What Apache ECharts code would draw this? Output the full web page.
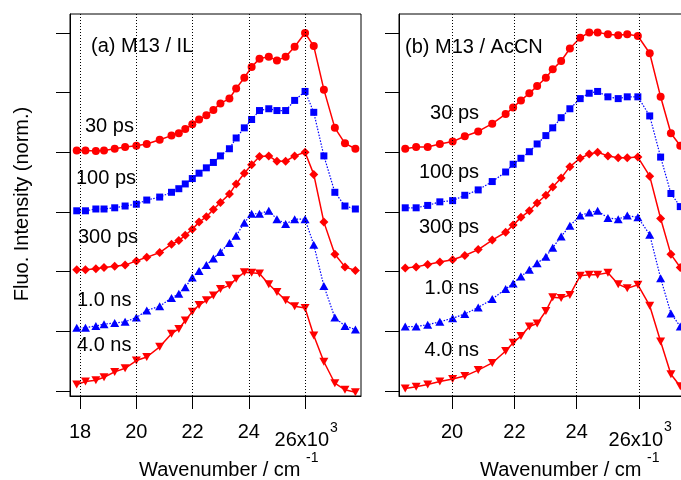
<!DOCTYPE html>
<html>
<head>
<meta charset="utf-8">
<script src="https://cdn.jsdelivr.net/npm/echarts@6/dist/echarts.min.js"></script>
<style>
  html, body { margin: 0; padding: 0; background: #fff; }
  #chart { width: 681px; height: 480px; }
</style>
</head>
<body>
<div id="chart"></div>
<script>
  // wavenumber (x10^3 cm-1) of each point
  const ilWn = [17.88, 18.19, 18.56, 18.85, 19.23, 19.60, 20.00, 20.37, 20.83, 21.25,
    21.51, 21.74, 21.99, 22.23, 22.49, 22.74, 22.99, 23.31, 23.55, 23.84,
    24.10, 24.38, 24.71, 25.00, 25.31, 25.63, 26.00, 26.31, 26.67, 27.06,
    27.42, 27.79];
  const acWn = [18.50, 18.85, 19.22, 19.61, 20.02, 20.41, 20.84, 21.29, 21.72, 21.96,
    22.21, 22.48, 22.73, 23.01, 23.23, 23.50, 23.78, 24.11, 24.40, 24.67,
    25.00, 25.33, 25.62, 25.96, 26.34, 26.69, 27.02, 27.32];

  // (a) M13 / IL  -- normalized spectra, already stacked with offsets
  const il30ps = [4.03, 4.03, 4.02, 4.03, 4.06, 4.09, 4.11, 4.14, 4.21, 4.28,
    4.32, 4.39, 4.47, 4.55, 4.62, 4.71, 4.82, 4.90, 5.07, 5.25,
    5.43, 5.57, 5.60, 5.54, 5.60, 5.77, 6.00, 5.78, 5.05, 4.41,
    4.15, 4.06];
  const il100ps = [3.02, 3.02, 3.05, 3.05, 3.07, 3.10, 3.13, 3.20, 3.25, 3.33,
    3.39, 3.47, 3.56, 3.65, 3.74, 3.83, 3.94, 4.06, 4.24, 4.41,
    4.55, 4.70, 4.73, 4.70, 4.70, 4.87, 5.02, 4.67, 3.94, 3.33,
    3.10, 3.05];
  const il300ps = [2.03, 2.03, 2.05, 2.07, 2.09, 2.11, 2.18, 2.24, 2.32, 2.46,
    2.52, 2.61, 2.71, 2.83, 2.92, 3.04, 3.16, 3.30, 3.47, 3.65,
    3.79, 3.93, 3.94, 3.85, 3.85, 3.94, 4.00, 3.63, 2.83, 2.29,
    2.08, 2.02];
  const il1ns = [1.06, 1.06, 1.09, 1.12, 1.14, 1.16, 1.23, 1.35, 1.42, 1.56,
    1.63, 1.74, 1.90, 2.01, 2.11, 2.22, 2.33, 2.48, 2.60, 2.82,
    2.97, 2.97, 3.02, 2.88, 2.80, 2.88, 2.88, 2.45, 1.76, 1.23,
    1.09, 1.03];
  const il4ns = [0.11, 0.16, 0.18, 0.23, 0.32, 0.38, 0.51, 0.57, 0.74, 0.96,
    1.04, 1.18, 1.33, 1.44, 1.52, 1.60, 1.71, 1.77, 1.88, 1.99,
    1.98, 1.97, 1.79, 1.66, 1.52, 1.42, 1.39, 0.93, 0.49, 0.13,
    0.02, -0.02];

  // (b) M13 / AcCN
  const ac30ps = [4.06, 4.09, 4.09, 4.14, 4.18, 4.27, 4.35, 4.48, 4.64, 4.75,
    4.87, 4.99, 5.11, 5.25, 5.39, 5.53, 5.74, 5.92, 6.01, 6.01,
    5.98, 5.96, 5.98, 5.95, 5.66, 4.93, 4.32, 4.11];
  const ac100ps = [3.07, 3.07, 3.11, 3.17, 3.19, 3.28, 3.37, 3.51, 3.67, 3.80,
    3.90, 4.01, 4.14, 4.28, 4.41, 4.58, 4.73, 4.90, 4.99, 5.02,
    4.93, 4.90, 4.93, 4.93, 4.61, 3.92, 3.31, 3.09];
  const ac300ps = [2.06, 2.08, 2.12, 2.16, 2.20, 2.27, 2.37, 2.53, 2.66, 2.78,
    2.91, 3.02, 3.15, 3.28, 3.42, 3.57, 3.76, 3.90, 3.97, 4.00,
    3.94, 3.91, 3.91, 3.92, 3.60, 2.89, 2.29, 2.07];
  const ac1ns = [1.08, 1.08, 1.11, 1.16, 1.22, 1.29, 1.40, 1.54, 1.71, 1.80,
    1.92, 2.03, 2.14, 2.25, 2.40, 2.59, 2.77, 2.94, 2.99, 3.02,
    2.90, 2.88, 2.94, 2.91, 2.62, 1.89, 1.30, 1.08];
  const ac4ns = [0.04, 0.07, 0.11, 0.16, 0.20, 0.25, 0.35, 0.47, 0.67, 0.81,
    0.92, 1.08, 1.13, 1.34, 1.57, 1.56, 1.61, 1.93, 1.95, 1.95,
    1.98, 1.79, 1.72, 1.78, 1.43, 0.83, 0.28, 0.08];

  const ilTicks = [18, 20, 22, 24, 26];
  const acTicks = [20, 22, 24, 26];
  const yTicks = [0, 1, 2, 3, 4, 5, 6];
  const delayLabels = ['30 ps', '100 ps', '300 ps', '1.0 ns', '4.0 ns'];

  const FONT = '"Liberation Sans", Arial, sans-serif';
  const RED = '#ff0000';
  const BLUE = '#0000ff';

  function mkSeries(name, xs, ys, idx, symbol, size, color, dotted, rotate) {
    return {
      name: name,
      type: 'line',
      xAxisIndex: idx,
      yAxisIndex: idx,
      data: xs.map((x, i) => [x, ys[i]]),
      symbol: symbol,
      symbolSize: size,
      symbolRotate: rotate || 0,
      itemStyle: { color: color },
      lineStyle: { color: color, width: dotted ? 1.2 : 1.5, type: dotted ? [1.5, 1.5] : 'solid' },
      emphasis: { disabled: true },
      animation: false
    };
  }

  function gridLines(vals) {
    return {
      silent: true,
      symbol: ['none', 'none'],
      label: { show: false },
      lineStyle: { color: '#000', type: [1, 2], width: 1 },
      data: vals.map(v => ({ xAxis: v })),
      animation: false
    };
  }

  function xAxisFor(idx, min, max, ticks) {
    return {
      gridIndex: idx,
      type: 'value',
      min: min,
      max: max,
      axisLine: { show: true, onZero: false, lineStyle: { color: '#000', width: 1 } },
      axisTick: { show: true, inside: false, length: 13, customValues: ticks, lineStyle: { color: '#000', width: 1 } },
      axisLabel: {
        customValues: ticks.filter(t => t !== 26),
        fontSize: 20, fontFamily: FONT, color: '#000', margin: 26
      },
      splitLine: { show: false }
    };
  }

  function yAxisFor(idx) {
    return {
      gridIndex: idx,
      type: 'value',
      min: -0.084,
      max: 6.318,
      axisLine: { show: true, onZero: false, lineStyle: { color: '#000', width: 1 } },
      axisTick: { show: true, inside: false, length: 14, customValues: yTicks, lineStyle: { color: '#000', width: 1 } },
      axisLabel: { show: false },
      splitLine: { show: false }
    };
  }

  const chart = echarts.init(document.getElementById('chart'), null, { renderer: 'canvas' });

  const s1 = mkSeries('30 ps', ilWn, il30ps, 0, 'circle', 8, RED, false);
  s1.markLine = gridLines(ilTicks);
  const s6 = mkSeries('30 ps', acWn, ac30ps, 1, 'circle', 8, RED, false);
  s6.markLine = gridLines(acTicks);

  chart.setOption({
    backgroundColor: '#fff',
    animation: false,
    grid: [
      { left: 70, top: 14, width: 291, height: 382, show: true, borderColor: '#000', borderWidth: 1, outerBoundsMode: 'none' },
      { left: 399, top: 14, width: 290, height: 382, show: true, borderColor: '#000', borderWidth: 1, outerBoundsMode: 'none' }
    ],
    xAxis: [xAxisFor(0, 17.64, 27.99, ilTicks), xAxisFor(1, 18.30, 27.60, acTicks)],
    yAxis: [yAxisFor(0), yAxisFor(1)],
    series: [
      s1,
      mkSeries('100 ps', ilWn, il100ps, 0, 'rect', 7, BLUE, true),
      mkSeries('300 ps', ilWn, il300ps, 0, 'diamond', 9, RED, false),
      mkSeries('1.0 ns', ilWn, il1ns, 0, 'triangle', [9, 8], BLUE, true),
      mkSeries('4.0 ns', ilWn, il4ns, 0, 'triangle', [9, 8], RED, false, 180),
      s6,
      mkSeries('100 ps', acWn, ac100ps, 1, 'rect', 7, BLUE, true),
      mkSeries('300 ps', acWn, ac300ps, 1, 'diamond', 9, RED, false),
      mkSeries('1.0 ns', acWn, ac1ns, 1, 'triangle', [9, 8], BLUE, true),
      mkSeries('4.0 ns', acWn, ac4ns, 1, 'triangle', [9, 8], RED, false, 180)
    ]
  });

  // text pieces (labels, titles, the "26x10^3" tick label with superscript)
  const p26a = chart.convertToPixel({ xAxisIndex: 0 }, 26);
  const p26b = chart.convertToPixel({ xAxisIndex: 1 }, 26);

  function txt(x, y, text, size, align, extra) {
    return Object.assign({
      type: 'text', x: x, y: y, silent: true,
      style: { text: text, fontSize: size, fontFamily: FONT, fill: '#000', align: align || 'left', verticalAlign: 'middle' }
    }, extra || {});
  }

  const ilLabelPos = [[85, 126], [76, 178], [78, 237], [77, 300], [77, 345]];
  const acLabelPos = [[479, 113], [479, 172], [479, 227], [479, 288], [479, 350]];

  const graphics = [
    txt(91, 46, '(a) M13 / IL', 20),
    txt(405, 47, '(b) M13 / AcCN', 20),
    txt(p26a + 24, 440, '26x10', 20, 'right'),
    txt(p26a + 25, 428, '3', 14),
    txt(p26b + 24, 440, '26x10', 20, 'right'),
    txt(p26b + 25, 427, '3', 14),
    txt(139, 470, 'Wavenumber / cm', 20),
    txt(306, 458, '-1', 14),
    txt(480, 470, 'Wavenumber / cm', 20),
    txt(647, 458, '-1', 14),
    txt(22, 204, 'Fluo. Intensity (norm.)', 20, 'center', { rotation: Math.PI / 2 })
  ];
  delayLabels.forEach((t, i) => {
    graphics.push(txt(ilLabelPos[i][0], ilLabelPos[i][1], t, 20));
    graphics.push(txt(acLabelPos[i][0], acLabelPos[i][1], t, 20, 'right'));
  });

  chart.setOption({ graphic: graphics });
</script>
</body>
</html>
